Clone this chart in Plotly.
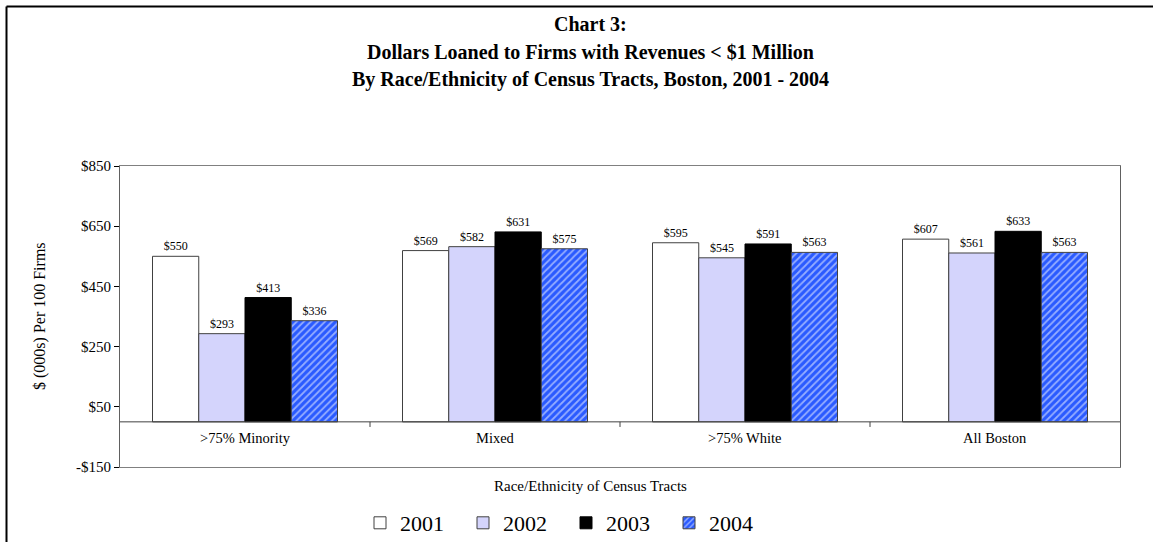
import plotly.graph_objects as go

categories = [">75% Minority", "Mixed", ">75% White", "All Boston"]
years = ["2001", "2002", "2003", "2004"]
v2001 = [550, 569, 595, 607]
v2002 = [293, 582, 545, 561]
v2003 = [413, 631, 591, 633]
v2004 = [336, 575, 563, 563]
tick_vals = [-150, 50, 250, 450, 650, 850]
tick_text = ["-$150", "$50", "$250", "$450", "$650", "$850"]
title_lines = ["Chart 3:",
               "Dollars Loaned to Firms with Revenues < $1 Million",
               "By Race/Ethnicity of Census Tracts, Boston, 2001 - 2004"]

W, H = 1153, 542
L, R, T, B = 120, 33, 166, 75
PW = W - L - R
PH = H - T - B
FONT = "Liberation Serif"

series = [v2001, v2002, v2003, v2004]
styles = [
    dict(color="white", line=dict(color="#404040", width=1)),
    dict(color="#d4d4fc", line=dict(color="#404040", width=1)),
    dict(color="black", line=dict(color="black", width=1)),
    dict(color="#2a5aff", line=dict(color="#404040", width=1),
         pattern=dict(shape="/", fgcolor="white", bgcolor="#2a5aff", size=5, solidity=0.35)),
]

fig = go.Figure()
for yr, vals, st in zip(years, series, styles):
    fig.add_trace(go.Bar(
        x=categories, y=vals, name=yr, marker=st,
        text=[f"${v}" for v in vals], textposition="outside",
        textfont=dict(family=FONT, size=12, color="black"),
        cliponaxis=False,
    ))

def px2px(x):  # pixel x -> paper x
    return (x - L) / PW

def py2py(y):  # pixel y -> paper y
    return (H - B - y) / PH

annotations = []
for i, (line, yp) in enumerate(zip(title_lines, [24, 52, 80])):
    annotations.append(dict(text=f"<b>{line}</b>", x=px2px(590), y=py2py(yp), xref="paper", yref="paper",
                            showarrow=False, xanchor="center", yanchor="middle",
                            font=dict(family=FONT, size=20, color="black")))
for c in categories:
    annotations.append(dict(text=c, x=c, y=-52, xref="x", yref="y", showarrow=False,
                            xanchor="center", yanchor="middle",
                            font=dict(family=FONT, size=14.5, color="black")))
annotations.append(dict(text="Race/Ethnicity of Census Tracts", x=px2px(590), y=py2py(486),
                        xref="paper", yref="paper", showarrow=False, xanchor="center", yanchor="middle",
                        font=dict(family=FONT, size=15, color="black")))
annotations.append(dict(text="$ (000s) Per 100 Firms", x=px2px(40), y=py2py(316),
                        xref="paper", yref="paper", showarrow=False, textangle=-90,
                        xanchor="center", yanchor="middle",
                        font=dict(family=FONT, size=16, color="black")))

shapes = []
# zero line
shapes.append(dict(type="line", xref="paper", yref="y", x0=0, x1=1, y0=0, y1=0,
                   line=dict(color="#404040", width=1)))
# boundary ticks on zero line
for b in [0.5, 1.5, 2.5]:
    shapes.append(dict(type="line", xref="x", yref="y", x0=b, x1=b, y0=0, y1=-17,
                       line=dict(color="#404040", width=1)))
# outer frame (left and top edges only)
shapes.append(dict(type="line", xref="paper", yref="paper",
                   x0=px2px(6.5), x1=px2px(6.5), y0=py2py(560), y1=py2py(6.5),
                   line=dict(color="black", width=2)))
shapes.append(dict(type="line", xref="paper", yref="paper",
                   x0=px2px(6.5), x1=px2px(1170), y0=py2py(6.5), y1=py2py(6.5),
                   line=dict(color="black", width=2)))

fig.update_layout(
    width=W, height=H,
    margin=dict(l=L, r=R, t=T, b=B, pad=0),
    paper_bgcolor="white", plot_bgcolor="white",
    barmode="group", bargap=0.26, bargroupgap=0,
    showlegend=True,
    legend=dict(orientation="h", xref="container", yref="container",
                x=566 / W, y=1 - 523 / H, xanchor="center", yanchor="middle",
                font=dict(family=FONT, size=22, color="black"),
                entrywidth=58, entrywidthmode="pixels",
                itemwidth=30, tracegroupgap=0, bgcolor="rgba(0,0,0,0)"),
    annotations=annotations,
    shapes=shapes,
    font=dict(family=FONT, color="black"),
)
fig.update_xaxes(showticklabels=False, showgrid=False, ticks="",
                 showline=True, mirror=True, linecolor="#808080", linewidth=1,
                 range=[-0.5, 3.5])
fig.update_yaxes(range=[-150, 850], tickvals=tick_vals, ticktext=tick_text,
                 showgrid=False, zeroline=False, ticks="outside", ticklen=5,
                 tickcolor="black", showline=True, mirror=True, linecolor="#606060",
                 linewidth=1, tickfont=dict(family=FONT, size=15, color="black"))

fig.write_html("out.html")
